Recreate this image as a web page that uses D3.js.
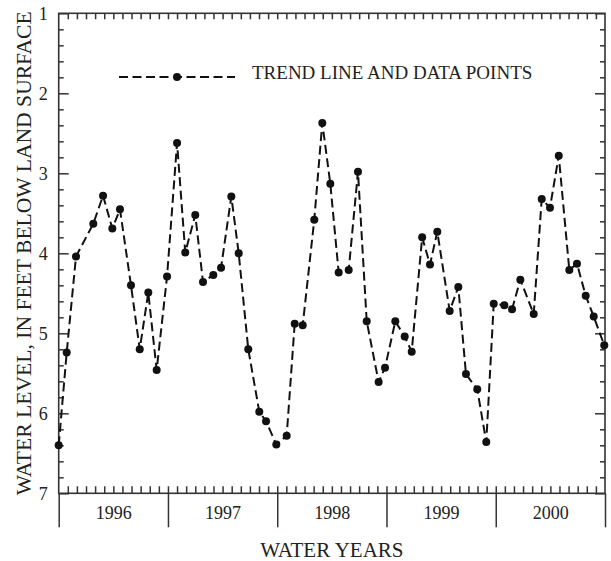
<!DOCTYPE html>
<html>
<head>
<meta charset="utf-8">
<script src="https://cdn.jsdelivr.net/npm/d3@7"></script>
<style>
  body { margin: 0; background: #fff; }
  text { font-family: "Liberation Serif", "Times New Roman", serif; fill: #222; }
</style>
</head>
<body>
<div id="chart"></div>
<script>
// months after 1 Oct 1995 (start of water year 1996) for each measurement
let monthOffsets = [0, 0.88, 1.9, 3.8, 4.87, 5.89, 6.73, 7.94, 8.9, 9.84, 10.76, 11.9,
  13.0, 13.9, 15.0, 15.85, 16.98, 17.83, 18.96, 19.77, 20.82, 22.03, 22.77, 23.9,
  25.04, 25.92, 26.8, 28.07, 28.95, 29.83, 30.75, 31.85, 32.87, 33.83, 35.14, 35.84,
  36.97, 38.0, 38.77, 39.92, 40.78, 41.58, 42.94, 43.89, 44.73, 45.97, 46.96, 47.78,
  48.94, 49.79, 50.7, 52.17, 53.05, 53.96, 54.92, 56.08, 56.92, 57.88, 58.76, 59.92];

// water level, feet below land surface
let waterLevels = [6.40, 5.24, 4.04, 3.63, 3.28, 3.69, 3.45, 4.40, 5.20, 4.49, 5.46, 4.29,
  2.62, 3.99, 3.52, 4.36, 4.27, 4.18, 3.29, 4.00, 5.20, 5.98, 6.10, 6.39,
  6.28, 4.88, 4.90, 3.58, 2.37, 3.13, 4.24, 4.21, 2.98, 4.85, 5.61, 5.43,
  4.85, 5.04, 5.23, 3.80, 4.14, 3.73, 4.72, 4.42, 5.51, 5.70, 6.36, 4.63,
  4.65, 4.70, 4.33, 4.76, 3.32, 3.43, 2.78, 4.21, 4.13, 4.53, 4.79, 5.15];

let waterYears = ["1996", "1997", "1998", "1999", "2000"];
let yTicks = [1, 2, 3, 4, 5, 6, 7];

let width = 611, height = 561;
let plotLeft = 58.7, plotRight = 605, plotTop = 13.3, plotBottom = 493.3;
let axisColor = "#333";

let svg = d3.select("#chart").append("svg")
  .attr("width", width).attr("height", height);

let x = d3.scaleLinear().domain([0, 60]).range([plotLeft, plotRight]);
let y = d3.scaleLinear().domain([1, 7]).range([plotTop, plotBottom]);

let data = monthOffsets.map((m, i) => ({m: m, v: waterLevels[i]}));

// little helper to style the axis groups
function styleAxis(g) {
  g.select(".domain").remove();
  g.selectAll("line").attr("stroke", axisColor).attr("stroke-width", 1.5);
  g.selectAll("text").attr("fill", "#222").style("font-family", "Liberation Serif, serif");
}

let months = d3.range(1, 60);
let minorY = d3.range(1, 7.01, 0.2).filter(d => Math.abs(d - Math.round(d)) > 0.01);

// top axis: monthly ticks pointing in
svg.append("g").attr("transform", "translate(0," + plotTop + ")")
  .call(d3.axisTop(x).tickValues(months).tickSize(-6).tickFormat(""))
  .call(styleAxis);

// bottom axis: monthly ticks pointing in
svg.append("g").attr("transform", "translate(0," + plotBottom + ")")
  .call(d3.axisBottom(x).tickValues(months).tickSize(-7).tickFormat(""))
  .call(styleAxis);

// bottom axis: year boundaries hanging below
svg.append("g").attr("transform", "translate(0," + plotBottom + ")")
  .call(d3.axisBottom(x).tickValues(d3.range(0, 61, 12)).tickSize(34).tickFormat(""))
  .call(styleAxis);

// year labels centred in each year
svg.append("g").attr("transform", "translate(0," + plotBottom + ")")
  .call(d3.axisBottom(x).tickValues(waterYears.map((d, i) => i * 12 + 6))
    .tickSize(0).tickPadding(13).tickFormat((d, i) => waterYears[i]))
  .call(styleAxis)
  .selectAll("text").style("font-size", "18px");

// left axis
svg.append("g").attr("transform", "translate(" + plotLeft + ",0)")
  .call(d3.axisLeft(y).tickValues(yTicks).tickSize(-10).tickPadding(11).tickFormat(d3.format("d")))
  .call(styleAxis)
  .selectAll("text").style("font-size", "18px");
svg.append("g").attr("transform", "translate(" + plotLeft + ",0)")
  .call(d3.axisLeft(y).tickValues(minorY).tickSize(-5).tickFormat(""))
  .call(styleAxis);

// right axis
svg.append("g").attr("transform", "translate(" + plotRight + ",0)")
  .call(d3.axisRight(y).tickValues(yTicks).tickSize(-10).tickFormat(""))
  .call(styleAxis);
svg.append("g").attr("transform", "translate(" + plotRight + ",0)")
  .call(d3.axisRight(y).tickValues(minorY).tickSize(-5).tickFormat(""))
  .call(styleAxis);

// frame
svg.append("rect")
  .attr("x", plotLeft).attr("y", plotTop)
  .attr("width", plotRight - plotLeft).attr("height", plotBottom - plotTop)
  .attr("fill", "none").attr("stroke", axisColor).attr("stroke-width", 1.6);

// trend line
let line = d3.line().x(d => x(d.m)).y(d => y(d.v));
svg.append("path")
  .datum(data)
  .attr("d", line)
  .attr("fill", "none")
  .attr("stroke", "#111")
  .attr("stroke-width", 2)
  .attr("stroke-dasharray", "9,4.5");

svg.selectAll(".pt")
  .data(data)
  .enter()
  .append("circle")
  .attr("class", "pt")
  .attr("cx", d => x(d.m))
  .attr("cy", d => y(d.v))
  .attr("r", 4)
  .attr("fill", "#111");

// legend
let legendY = 77;
svg.append("line")
  .attr("x1", 119).attr("x2", 235)
  .attr("y1", legendY).attr("y2", legendY)
  .attr("stroke", "#111").attr("stroke-width", 2)
  .attr("stroke-dasharray", "9,4.5");
svg.append("circle")
  .attr("cx", 177).attr("cy", legendY).attr("r", 4).attr("fill", "#111");
svg.append("text")
  .attr("x", 252).attr("y", legendY + 2)
  .style("font-size", "19px")
  .text("TREND LINE AND DATA POINTS");

// axis titles
svg.append("text")
  .attr("x", (plotLeft + plotRight) / 2).attr("y", 557)
  .attr("text-anchor", "middle")
  .style("font-size", "21px")
  .text("WATER YEARS");

svg.append("text")
  .attr("transform", "translate(31," + ((plotTop + plotBottom) / 2) + ") rotate(-90)")
  .attr("text-anchor", "middle")
  .style("font-size", "21.6px")
  .text("WATER LEVEL, IN FEET BELOW LAND SURFACE");
</script>
</body>
</html>
